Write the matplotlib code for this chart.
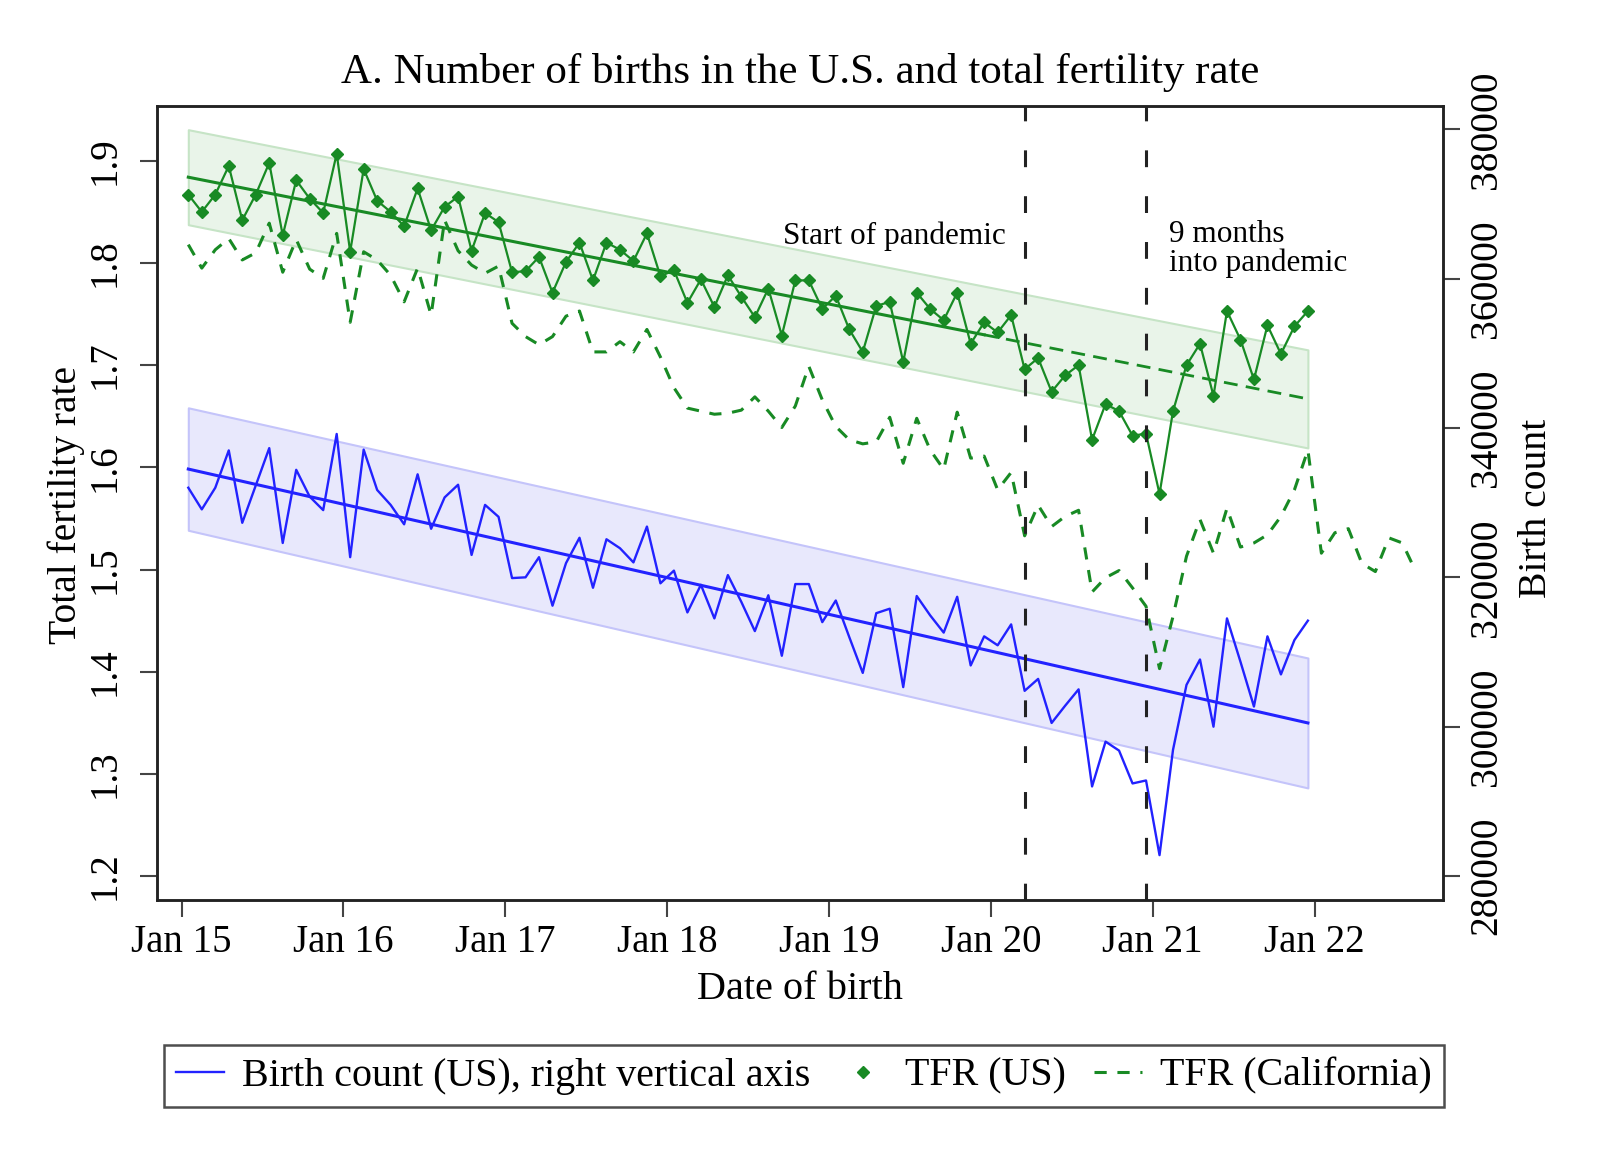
import matplotlib
matplotlib.use('Agg')
import matplotlib.pyplot as plt
import matplotlib.ticker as ticker
from matplotlib.lines import Line2D
import numpy as np

plt.rcParams['font.family'] = ['Liberation Serif', 'DejaVu Serif']

# monthly values, Jan 2015 onwards
us_tfr = [1.867, 1.850, 1.867, 1.895, 1.842, 1.867, 1.898, 1.827, 1.881, 1.863,
          1.849, 1.907, 1.811, 1.892, 1.861, 1.850, 1.836, 1.873, 1.832, 1.855,
          1.865, 1.812, 1.849, 1.840, 1.791, 1.792, 1.806, 1.771, 1.801, 1.820,
          1.783, 1.820, 1.813, 1.802, 1.829, 1.787, 1.793, 1.761, 1.784, 1.757,
          1.788, 1.767, 1.747, 1.775, 1.729, 1.783, 1.783, 1.755, 1.768, 1.735,
          1.713, 1.758, 1.762, 1.703, 1.771, 1.755, 1.744, 1.771, 1.721, 1.742,
          1.732, 1.749, 1.696, 1.707, 1.674, 1.690, 1.700, 1.627, 1.662, 1.655,
          1.631, 1.633, 1.574, 1.655, 1.700, 1.721, 1.670, 1.753, 1.725, 1.686,
          1.739, 1.711, 1.738, 1.753]

ca_tfr = [1.818, 1.795, 1.813, 1.824, 1.803, 1.810, 1.839, 1.791, 1.823, 1.794,
          1.785, 1.829, 1.742, 1.811, 1.803, 1.788, 1.762, 1.795, 1.749, 1.842,
          1.812, 1.798, 1.790, 1.797, 1.741, 1.728, 1.720, 1.728, 1.748, 1.753,
          1.713, 1.713, 1.723, 1.713, 1.735, 1.708, 1.678, 1.658, 1.655, 1.652,
          1.653, 1.656, 1.669, 1.655, 1.639, 1.660, 1.699, 1.666, 1.640, 1.627,
          1.623, 1.625, 1.649, 1.604, 1.648, 1.617, 1.598, 1.654, 1.609, 1.611,
          1.578, 1.595, 1.533, 1.563, 1.542, 1.552, 1.558, 1.478, 1.492, 1.499,
          1.482, 1.464, 1.403, 1.454, 1.513, 1.549, 1.516, 1.560, 1.522, 1.526,
          1.534, 1.552, 1.578, 1.617, 1.516, 1.536, 1.540, 1.506, 1.498, 1.531,
          1.526, 1.498]

births = [332000, 329100, 332000, 337000, 327300, 332300, 337300, 324600, 334400, 330800,
          329000, 339200, 322700, 337100, 331700, 329700, 327100, 333800, 326500, 330700,
          332400, 323000, 329700, 328100, 319900, 320000, 322700, 316200, 321900, 325300,
          318600, 325100, 323900, 322000, 326800, 319200, 320900, 315300, 319000, 314500,
          320300, 316700, 312800, 317600, 309500, 319100, 319100, 314000, 316900, 312000,
          307200, 315200, 315800, 305300, 317500, 314900, 312600, 317400, 308200, 312100,
          310900, 313700, 304800, 306400, 300500, 302800, 305000, 292000, 298000, 296800,
          292400, 292800, 282800, 296900, 305600, 309000, 300000, 314500, 308700, 302700,
          312100, 307000, 311600, 314200]

# pre-pandemic trends: value at first and last month, half width of the band
tfr_trend = [1.884, 1.667]
tfr_band = [0.0465, 0.048]
births_trend = [334500, 300500]
births_band = [8200, 8700]
trend_break = 59          # solid up to Dec 2019, projected after
pandemic_marks = [62, 71]  # Mar 2020, Dec 2020
year_labels = ['Jan 15', 'Jan 16', 'Jan 17', 'Jan 18', 'Jan 19', 'Jan 20', 'Jan 21', 'Jan 22']

green = '#188a24'
blue = '#2222ff'

x_us = np.arange(len(us_tfr)) + 0.5
x_ca = np.arange(len(ca_tfr)) + 0.5
x_ends = [x_us[0], x_us[-1]]
x_break = trend_break + 0.5

fig = plt.figure(figsize=(16, 11.6), dpi=100)
ax = fig.add_axes([0.0983, 0.2241, 0.8037, 0.6848])
ax2 = ax.twinx()
ax.set_zorder(ax2.get_zorder() + 1)
ax.patch.set_visible(False)

# birth count (right axis)
b_lo = [births_trend[0] - births_band[0], births_trend[1] - births_band[1]]
b_hi = [births_trend[0] + births_band[0], births_trend[1] + births_band[1]]
ax2.fill_between(x_ends, b_lo, b_hi, facecolor='#e8e8fc', edgecolor='#c4c4fa', linewidth=1.5)
ax2.plot(x_ends, births_trend, color=blue, linewidth=2.2)
ax2.plot(x_us, births, color=blue, linewidth=1.7)

# TFR (left axis)
t_lo = [tfr_trend[0] - tfr_band[0], tfr_trend[1] - tfr_band[1]]
t_hi = [tfr_trend[0] + tfr_band[0], tfr_trend[1] + tfr_band[1]]
ax.fill_between(x_ends, t_lo, t_hi, facecolor='#e9f4e9', edgecolor='#c6e4c6', linewidth=1.5, zorder=1)
t_break = np.interp(x_break, x_ends, tfr_trend)
ax.plot([x_ends[0], x_break], [tfr_trend[0], t_break], color=green, linewidth=2.2, zorder=3)
ax.plot([x_break, x_ends[1]], [t_break, tfr_trend[1]], color=green, linewidth=2,
        dashes=(5, 3), zorder=3)
ax.plot(x_ca, ca_tfr, color=green, linewidth=2.2, dashes=(4, 3.5), zorder=3)
ax.plot(x_us, us_tfr, color=green, linewidth=1.6, marker='D', markersize=6.5, zorder=4)

for m in pandemic_marks:
    ax.axvline(m + 0.5, color='#222222', linewidth=2.2, dashes=(5.5, 9.5), zorder=5)

ax.text(61.1, 1.8266, 'Start of pandemic', fontsize=22.5, ha='right', va='center')
ax.text(73.2, 1.8135, '9 months\ninto pandemic', fontsize=22.5, ha='left', va='center',
        linespacing=1.0)

# axes
ax.set_xlim(-1.80, 93.53)
ax.set_ylim(1.1765, 1.954)
ax2.set_ylim(276787, 383159)
ax.set_xticks(np.arange(0, 85, 12))
ax.set_xticklabels(year_labels)
ax.set_yticks(np.arange(1.2, 1.91, 0.1))
ax.yaxis.set_major_formatter(ticker.StrMethodFormatter('{x:.1f}'))
ax2.set_yticks(np.arange(280000, 380001, 20000))
ax2.yaxis.set_major_formatter(ticker.StrMethodFormatter('{x:.0f}'))

for a in (ax, ax2):
    for s in a.spines.values():
        s.set_linewidth(1.8)
        s.set_color('#222222')
ax.tick_params(axis='x', direction='out', length=12, width=1.5, labelsize=28, pad=5,
               color='#444444')
ax.tick_params(axis='y', direction='out', length=12, width=1.5, labelsize=28, pad=12,
               color='#444444', labelrotation=90)
ax2.tick_params(axis='y', direction='out', length=12, width=1.5, labelsize=28.5, pad=6,
                color='#444444', labelrotation=90)
for lab in ax.get_yticklabels() + ax2.get_yticklabels():
    lab.set_verticalalignment('center')

ax.set_title('A. Number of births in the U.S. and total fertility rate', fontsize=31, pad=16)
ax.set_xlabel('Date of birth', fontsize=29)
ax.xaxis.label.set_verticalalignment('center')
ax.xaxis.set_label_coords(0.5, -0.1125)
ax.set_ylabel('Total fertility rate', fontsize=28.5)
ax.yaxis.label.set(ha='center', va='center', rotation_mode='default')
ax.yaxis.set_label_coords(-0.0705, 0.497)
ax2.set_ylabel('Birth count', fontsize=28.5)
ax2.yaxis.label.set(ha='center', va='center', rotation_mode='default', rotation=90)
ax2.yaxis.set_label_coords(1.0722, 0.4935)

handles = [Line2D([], [], color=blue, linewidth=1.7),
           Line2D([], [], color=green, linestyle='none', marker='D', markersize=6.5),
           Line2D([], [], color=green, linewidth=2.2, dashes=(4, 3.5))]
labels = ['Birth count (US), right vertical axis', 'TFR (US)', 'TFR (California)']
leg = fig.legend(handles, labels, loc='center', bbox_to_anchor=(0.5025, 0.0724), ncol=3,
                 fontsize=28.8, frameon=True, fancybox=False, edgecolor='#222222',
                 handlelength=1.2, handletextpad=0.45, columnspacing=0.7, borderpad=0.3,
                 borderaxespad=0)
leg.get_frame().set_linewidth(1.8)

fig.savefig('out.png', dpi=100, facecolor='white')
